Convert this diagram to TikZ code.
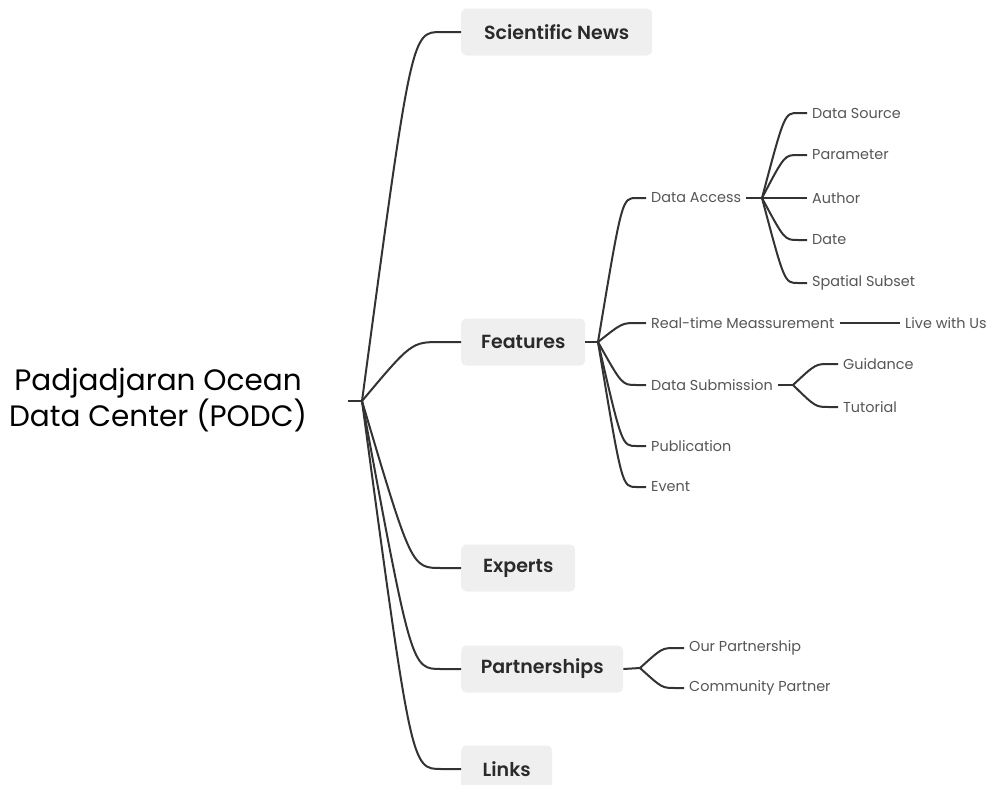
\documentclass[tikz,border=0pt]{standalone}
\usepackage{fontspec}
\setmainfont{Poppins}
\newfontfamily\boxfont{Poppins SemiBold}
\usetikzlibrary{calc}
\definecolor{ln}{HTML}{333333}
\definecolor{boxfill}{HTML}{EFEFEF}
\definecolor{subtext}{HTML}{555555}
\definecolor{maintext}{HTML}{2A2A2A}
\begin{document}
\begin{tikzpicture}[x=1pt,y=-1pt,
  conn/.style={draw=ln, line width=2pt},
  branch/.style={to path={let \p1=(\tikztostart),\p2=(\tikztotarget) in
     .. controls ({\x1+0.5*(\x2-\x1)},\y2) and ({\x1+0.5*(\x2-\x1)},\y2) ..
     ({\x2-0.2*(\x2-\x1)},\y2) -- (\tikztotarget)}},
  root/.style={align=center, text=black, font=\fontsize{29.5}{36}\selectfont, inner sep=0pt},
  mainbox/.style={fill=boxfill, rounded corners=5pt, anchor=west, minimum height=47pt,
     inner sep=0pt, text=maintext, font=\fontsize{19}{21}\selectfont\boxfont},
  sub/.style={anchor=west, inner xsep=5pt, inner ysep=2pt, text=subtext,
     font=\fontsize{14.4}{16}\selectfont}
]
\clip (0,0) rectangle (994,785);
\useasboundingbox (0,0) rectangle (994,785);

% root
\node[root] (root) at (158,400) {Padjadjaran Ocean\\Data Center (PODC)};
\coordinate (rs) at (348,401);
\coordinate (rj) at (362,401);

% main boxes
\node[mainbox, minimum width=191pt] (sn) at (461,32) {Scientific News};
\node[mainbox, minimum width=124pt] (fe) at (461,342) {Features};
\node[mainbox, minimum width=114pt] (ex) at (461,568) {Experts};
\node[mainbox, minimum width=162pt] (pa) at (461,669) {Partnerships};
\node[mainbox, minimum width=91pt]  (li) at (461,769) {Links};

% features children
\coordinate (fj) at (598,342);
\node[sub] (da) at (646,198) {Data Access};
\node[sub] (rt) at (646,323) {Real-time Meassurement};
\node[sub] (dsub) at (646,385) {Data Submission};
\node[sub] (pub) at (646,446) {Publication};
\node[sub] (ev) at (646,487) {Event};

% data access children
\coordinate (daj) at (762,198);
\node[sub] (dso) at (807,113) {Data Source};
\node[sub] (par) at (807,155) {Parameter};
\node[sub] (au) at (807,198) {Author};
\node[sub] (dt) at (807,240) {Date};
\node[sub] (ss) at (807,283) {Spatial Subset};

% real-time child
\node[sub] (lw) at (900,323) {Live with Us};

% data submission children
\coordinate (dsj) at (793,385);
\node[sub] (gu) at (838,364) {Guidance};
\node[sub] (tu) at (838,407) {Tutorial};

% partnerships children
\coordinate (pj) at (640,668);
\node[sub] (op) at (684,648) {Our Partnership};
\node[sub] (cp) at (684,688) {Community Partner};

% connectors
\draw[conn] (rs) -- (rj);
\draw[conn] (rj) to[branch] (sn.west);
\draw[conn] (rj) to[branch] (fe.west);
\draw[conn] (rj) to[branch] (ex.west);
\draw[conn] (rj) to[branch] (pa.west);
\draw[conn] (rj) to[branch] (li.west);

\draw[conn] (fe.east) -- (fj);
\draw[conn] (fj) to[branch] (da.west);
\draw[conn] (fj) to[branch] (rt.west);
\draw[conn] (fj) to[branch] (dsub.west);
\draw[conn] (fj) to[branch] (pub.west);
\draw[conn] (fj) to[branch] (ev.west);

\draw[conn] (da.east) -- (daj);
\draw[conn] (daj) to[branch] (dso.west);
\draw[conn] (daj) to[branch] (par.west);
\draw[conn] (daj) to[branch] (au.west);
\draw[conn] (daj) to[branch] (dt.west);
\draw[conn] (daj) to[branch] (ss.west);

\draw[conn] (rt.east) -- (lw.west);

\draw[conn] (dsub.east) -- (dsj);
\draw[conn] (dsj) to[branch] (gu.west);
\draw[conn] (dsj) to[branch] (tu.west);

\draw[conn] (pa.east) -- (pj);
\draw[conn] (pj) to[branch] (op.west);
\draw[conn] (pj) to[branch] (cp.west);
\end{tikzpicture}
\end{document}
